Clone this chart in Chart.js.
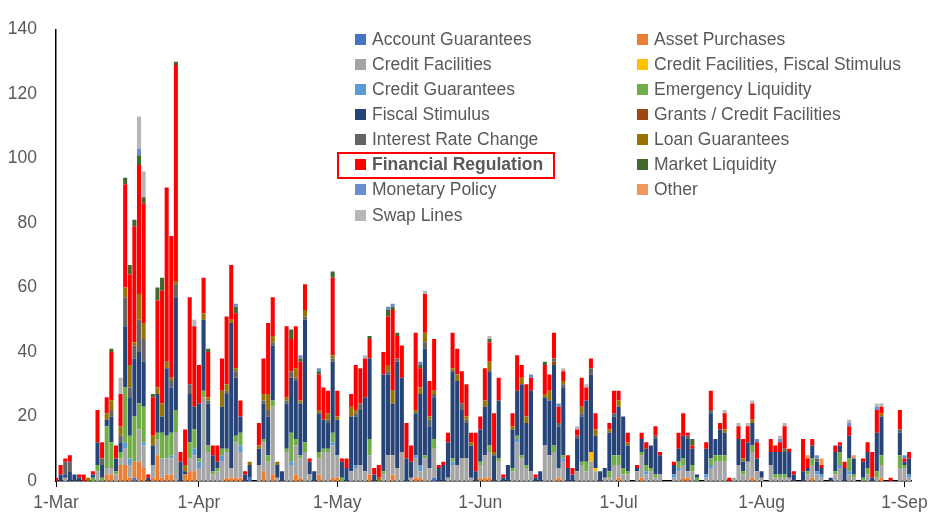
<!DOCTYPE html>
<html>
<head>
<meta charset="utf-8">
<script src="https://cdn.jsdelivr.net/npm/chart.js@4.4.1/dist/chart.umd.min.js"></script>
<style>
  html, body { margin: 0; padding: 0; background: #fff; }
  #wrap { position: relative; width: 934px; height: 518px; }
  #legend {
    position: absolute; left: 355px; top: 26.5px;
    display: grid; grid-template-columns: 282px 270px; grid-auto-rows: 25.15px;
    font-family: "Liberation Sans", Arial, sans-serif; font-size: 17.5px; color: #595959;
  }
  .item { position: relative; display: flex; align-items: center; white-space: nowrap; }
  .swatch { width: 11px; height: 11px; margin-right: 6px; flex: none; }
  .item.hl { font-weight: bold; }
  .item.hl::before {
    content: ""; position: absolute; left: -18px; top: 0; width: 218px; height: 27px;
    border: 2px solid #f00; box-sizing: border-box;
  }
</style>
</head>
<body>
<div id="wrap">
  <canvas id="chart" width="934" height="518"></canvas>
  <div id="legend"></div>
</div>
<script>
// one value per day, 1-Mar to 2-Sep (lines are months)
const monthTicks = [0, 31, 61, 92, 122, 153, 184];
const monthLabels = ['1-Mar', '1-Apr', '1-May', '1-Jun', '1-Jul', '1-Aug', '1-Sep'];

const seriesNames = [
  'Account Guarantees', 'Asset Purchases', 'Credit Facilities', 'Credit Facilities, Fiscal Stimulus',
  'Credit Guarantees', 'Emergency Liquidity', 'Fiscal Stimulus', 'Grants / Credit Facilities',
  'Interest Rate Change', 'Loan Guarantees', 'Financial Regulation', 'Market Liquidity',
  'Monetary Policy', 'Other', 'Swap Lines'
];
const seriesColors = [
  '#4472C4', '#ED7D31', '#A5A5A5', '#FFC000', '#5B9BD5', '#70AD47', '#264478', '#9E480E',
  '#636363', '#997300', '#FF0000', '#43682B', '#698ED0', '#F1975A', '#B7B7B7'
];

const accountGuarantees = [
  0,0,0,0,0,0,0,0,0,0, 0,0,0,0,0,0,0,1,0,0, 0,0,0,0,0,0,0,0,0,0, 0,
  0,0,0,0,0,0,0,0,0,0, 0,1,0,0,0,0,0,0,0,0, 0,0,0,0,0,0,0,0,0,0,
  0,0,0,0,0,0,0,0,0,0, 0,0,0,0,0,0,0,0,0,0, 0,1,0,0,0,0,0,0,0,0, 0,
  0,0,0,0,0,0,0,0,0,0, 0,0,0,0,0,0,0,0,0,0, 0,0,0,0,0,0,0,0,0,0,
  0,0,0,0,0,0,0,0,0,0, 0,0,0,0,0,0,0,0,0,0, 0,0,0,0,0,0,0,0,0,0, 0,
  0,0,0,0,0,0,0,0,0,0, 0,0,0,0,0,0,0,0,0,0, 0,0,0,0,0,0,0,0,0,0, 0,
  0,0
];
const assetPurchases = [
  0,0,0,0,0,0,0,0,0,0, 0,2,2,0,5,5,1,5,6,4, 0,1,8,1,2,2,0,0,2,3, 3,
  0,0,0,0,0,0,1,1,1,1, 0,0,0,0,3,0,2,0,0,0, 0,2,1,0,0,0,2,0,0,1,
  1,0,0,0,0,0,0,2,0,0, 0,0,2,0,0,0,0,1,1,0, 0,0,0,0,0,0,0,0,0,0, 0,
  1,1,1,0,0,0,0,0,0,0, 0,0,0,0,0,0,0,1,0,0, 0,0,0,0,0,0,0,0,0,0,
  1,0,0,0,0,1,0,0,0,0, 0,0,0,0,1,1,0,0,0,0, 0,0,0,0,0,0,0,0,0,1, 0,
  0,0,0,0,0,0,0,0,0,0, 0,1,0,0,0,0,0,0,0,0, 0,0,0,0,0,0,1,0,0,0, 0,
  0,0
];
const creditFacilities = [
  0,0,1,0,0,0,0,0,0,3, 0,2,2,2,2,5,4,0,10,7, 0,4,5,6,5,5,15,0,0,4, 5,
  4,26,9,2,3,6,8,3,11,8, 0,0,0,5,9,6,21,1,0,9, 5,9,6,9,2,0,5,9,9,10,
  7,0,0,3,4,5,3,6,0,0, 2,8,6,4,9,0,1,6,2,7, 4,9,0,0,1,5,5,7,7,1, 0,
  4,7,8,0,6,0,0,3,12,7, 4,3,0,0,11,8,9,3,6,0, 0,3,5,3,6,3,0,1,1,5,
  4,2,2,0,3,7,2,3,1,2, 0,0,1,3,4,2,3,0,0,1, 4,6,6,6,0,1,5,2,6,8, 3,
  1,0,5,1,1,1,1,0,0,0, 2,4,2,1,0,0,2,4,0,2, 1,0,0,2,0,1,4,0,0,0, 4,
  4,1
];
const creditFiscal = [
  0,0,0,0,0,0,0,0,0,0, 0,0,0,0,0,0,0,0,0,0, 0,0,0,0,0,0,0,0,0,0, 0,
  0,0,0,0,0,0,0,0,0,0, 0,0,0,0,0,0,0,0,0,0, 0,0,0,0,0,0,0,0,0,0,
  0,0,0,0,0,0,0,0,0,0, 0,0,0,0,0,0,0,0,0,0, 0,0,0,0,0,0,0,0,0,0, 0,
  0,0,0,0,0,0,0,0,0,0, 0,0,0,0,0,0,0,0,0,0, 0,0,0,0,3,1,0,0,0,0,
  0,0,0,0,0,0,0,0,0,0, 0,0,0,0,0,0,0,0,0,0, 0,0,0,0,0,0,0,0,0,0, 0,
  0,0,0,0,0,0,0,0,0,0, 0,0,0,0,0,0,0,0,0,0, 0,0,0,0,0,0,0,0,0,0, 0,
  0,0
];
const creditGuarantees = [
  0,0,0,0,0,0,0,0,0,0, 0,0,0,0,0,2,2,0,0,1, 0,0,0,0,0,1,0,0,0,0, 2,
  2,0,0,0,0,2,0,0,0,2, 0,0,0,0,0,0,0,0,0,0, 1,0,0,0,0,0,0,0,0,1,
  0,0,0,0,1,0,0,0,0,0, 0,0,0,0,0,0,0,1,2,0, 0,0,0,0,0,1,0,0,0,0, 0,
  0,0,0,0,0,0,0,0,1,0, 0,0,0,0,0,0,0,0,1,0, 0,0,0,0,0,0,0,0,0,0,
  0,0,0,0,0,0,1,0,0,0, 0,0,1,1,0,0,0,0,0,1, 1,0,0,0,0,0,0,0,0,0, 0,
  0,0,0,0,0,0,0,0,0,0, 0,0,1,1,0,0,0,1,0,1, 0,0,0,0,0,0,0,0,0,0, 0,
  0,1
];
const emergencyLiquidity = [
  0,0,0,0,0,0,0,0,1,2, 1,13,8,1,2,17,7,14,8,11, 0,0,2,8,7,7,7,0,0,5, 6,
  1,2,2,1,1,2,1,0,2,4, 0,0,0,0,1,2,2,0,0,1, 9,2,1,3,0,0,2,1,1,3,
  0,1,0,0,0,0,0,5,0,0, 1,0,0,0,0,0,0,0,0,1, 0,3,0,0,0,1,0,0,0,0, 0,
  1,0,2,0,1,0,0,1,1,1, 1,0,0,0,0,0,2,0,1,0, 0,0,1,3,0,0,0,0,2,3,
  3,2,1,0,0,1,2,1,1,0, 0,0,0,2,2,0,2,1,0,0, 2,2,2,2,0,0,0,1,0,2, 0,
  0,0,0,1,1,1,0,0,0,0, 1,2,0,0,0,0,1,4,0,4, 1,0,1,2,0,2,3,0,0,0, 4,
  1,0
];
const fiscalStimulus = [
  0,2,1,3,2,1,0,0,1,7, 4,2,8,4,3,19,12,18,16,14, 1,6,12,5,21,14,35,6,1,15, 7,
  17,22,13,5,2,13,17,45,18,5, 2,4,0,5,11,12,17,4,3,14, 17,18,16,38,4,3,12,9,8,22,
  11,5,4,17,15,17,23,25,2,0, 30,25,16,33,23,7,5,13,22,33, 13,13,4,5,11,27,26,15,11,10, 3,
  10,15,23,8,18,1,5,12,14,22, 13,25,1,3,15,17,25,13,21,4, 2,10,14,19,24,10,3,3,12,12,
  15,16,8,0,1,4,5,7,11,6, 0,0,3,4,7,10,5,1,0,8, 14,5,8,7,0,0,8,3,6,7, 4,
  2,0,4,7,7,7,8,2,0,3, 1,4,3,2,0,1,6,2,4,7, 5,0,5,5,1,12,12,0,0,0, 7,
  1,5
];
const grantsCredit = [
  0,0,0,0,0,0,0,0,0,0, 0,0,0,0,0,0,0,0,0,0, 0,0,0,0,0,0,0,0,0,0, 0,
  0,0,0,0,0,0,0,0,0,0, 0,0,0,0,0,0,0,0,0,0, 0,0,0,0,0,0,0,0,0,0,
  0,0,0,0,0,0,0,0,0,0, 0,0,0,0,0,0,0,0,0,0, 0,0,0,0,0,0,0,0,0,0, 0,
  0,0,0,0,0,0,0,0,0,0, 0,0,0,0,0,0,1,0,0,0, 0,0,0,0,0,0,0,0,0,0,
  0,0,0,0,0,0,0,0,0,0, 0,0,0,0,0,0,0,0,0,0, 0,0,0,0,0,0,0,0,0,0, 0,
  0,0,0,0,0,0,0,0,0,0, 0,0,0,0,0,0,0,0,0,0, 0,0,0,0,0,0,0,0,0,0, 0,
  0,0
];
const interestRate = [
  0,0,4,3,0,0,0,0,0,0, 2,0,2,0,2,9,3,4,10,7, 0,0,0,0,0,2,4,0,0,3, 0,
  0,0,1,0,0,0,1,0,2,0, 0,0,0,0,1,2,1,0,0,1, 2,1,0,1,0,0,0,0,1,1,
  0,0,0,0,1,2,0,0,0,0, 0,1,0,1,0,0,0,0,0,2, 2,1,0,0,0,0,0,2,1,0, 0,
  0,0,0,0,0,0,0,0,0,0, 0,0,0,0,0,0,1,1,1,0, 0,1,1,0,2,0,0,0,0,1,
  0,0,0,0,0,0,0,0,1,0, 0,0,0,0,0,1,0,0,0,0, 1,0,0,0,0,0,0,0,0,0, 0,
  0,0,0,0,0,1,0,0,0,0, 0,0,1,0,0,0,0,0,0,0, 0,0,0,0,0,0,0,0,0,0, 1,
  0,0
];
const loanGuarantees = [
  0,0,0,0,0,0,0,1,0,0, 0,2,3,0,3,3,7,1,8,5, 0,3,2,4,2,1,1,0,2,0, 0,
  0,2,1,0,0,5,2,1,1,0, 0,1,0,1,2,5,2,1,0,1, 0,3,1,2,0,0,1,0,2,1,
  1,0,0,3,1,0,0,0,0,1, 0,2,4,0,0,0,0,1,2,3, 1,1,0,0,0,1,2,0,1,1, 0,
  0,2,3,1,0,0,0,1,0,2, 2,0,0,0,1,3,0,0,1,0, 0,0,2,0,0,2,0,0,1,0,
  2,0,1,0,0,0,0,0,0,0, 0,0,0,0,0,0,0,0,0,0, 0,0,0,1,0,0,0,1,0,1, 0,
  0,0,0,0,0,0,0,0,0,0, 0,0,0,0,0,0,0,0,0,0, 0,0,0,0,0,0,1,0,0,0, 0,
  0,0
];
const financialRegulation = [
  1,3,1,2,0,1,2,0,1,10, 5,5,15,4,10,32,28,36,40,37, 1,12,27,35,54,44,67,3,11,27, 25,
  12,11,14,3,5,10,21,17,17,5, 1,0,0,7,11,22,12,0,0,22, 10,13,12,8,1,0,11,10,7,24,
  8,1,3,4,14,11,12,6,2,4, 7,15,25,7,10,11,5,24,6,12, 11,16,1,1,3,11,8,10,10,3, 12,
  4,10,6,12,7,1,0,4,11,4, 10,4,1,0,9,5,8,5,3,4, 2,2,9,4,3,5,0,0,2,7,
  3,0,3,0,1,2,2,0,3,1, 0,0,1,5,7,1,1,0,0,2, 6,0,2,5,1,0,4,6,5,5, 5,
  0,0,4,2,3,7,1,1,0,10, 3,2,0,1,0,0,2,1,2,3, 0,0,1,3,8,7,2,0,1,0, 6,
  1,2
];
const marketLiquidity = [
  0,0,0,0,0,0,0,0,0,0, 0,0,1,0,0,2,3,2,3,2, 0,1,4,4,0,0,1,0,0,0, 0,
  0,0,1,0,0,0,0,0,2,0, 0,0,0,0,0,0,0,0,0,0, 3,0,1,0,0,0,1,0,0,2,
  0,0,0,0,0,0,0,1,0,0, 0,2,1,1,0,0,0,0,1,0, 0,0,0,0,0,0,0,0,0,0, 0,
  0,0,1,0,0,0,0,0,0,0, 0,0,0,0,1,0,0,0,0,0, 0,0,0,0,0,0,0,0,0,0,
  0,0,0,0,0,0,0,0,0,0, 0,0,0,0,0,0,2,0,0,0, 0,0,0,0,0,0,0,0,0,0, 0,
  0,0,0,0,0,0,0,0,0,0, 0,0,0,0,0,0,0,0,0,0, 0,0,0,0,0,0,0,0,0,0, 0,
  0,0
];
const monetaryPolicy = [
  0,0,0,0,0,0,0,0,0,0, 0,0,0,0,0,0,0,0,2,0, 0,0,0,0,0,0,0,0,0,0, 0,
  0,0,0,0,0,0,0,0,1,0, 0,0,0,0,0,0,0,0,0,0, 0,0,1,0,0,0,1,0,0,0,
  0,0,0,0,0,0,0,0,0,0, 0,1,1,0,0,0,0,0,1,0, 0,0,0,0,0,0,0,0,0,0, 0,
  0,0,0,0,0,0,0,0,0,0, 0,1,0,0,0,0,0,1,0,0, 0,0,0,0,0,0,0,0,0,0,
  0,0,0,0,0,0,0,0,0,0, 0,0,0,0,0,0,0,0,0,0, 0,0,0,0,0,0,0,0,0,0, 1,
  0,0,0,0,1,0,0,0,0,0, 0,0,1,0,0,0,0,0,0,1, 0,0,0,0,0,1,0,0,0,0, 0,
  1,0
];
const other = [
  0,0,0,0,0,0,0,0,0,0, 0,0,0,0,0,0,0,0,0,0, 0,0,0,0,0,0,0,0,0,0, 0,
  0,0,0,0,0,0,0,0,0,0, 0,0,0,0,0,0,0,0,0,0, 0,0,0,0,0,0,0,0,0,0,
  0,0,0,0,0,0,0,0,0,0, 0,0,0,0,0,0,0,0,0,0, 0,0,0,0,0,0,0,0,0,0, 0,
  0,0,0,0,0,0,0,0,0,0, 0,0,0,0,0,0,0,0,0,0, 0,0,0,0,0,0,0,0,0,0,
  0,0,0,0,0,0,0,0,0,0, 0,0,0,0,0,0,0,0,0,0, 0,0,0,0,0,0,0,0,0,0, 0,
  0,0,0,0,0,0,0,0,0,0, 1,0,0,2,0,0,0,0,0,0, 1,0,0,0,0,0,0,0,0,0, 0,
  0,0
];
const swapLines = [
  0,0,0,0,0,0,0,0,0,0, 0,0,0,0,5,0,0,0,10,8, 0,0,0,0,0,0,0,0,0,0, 2,
  0,0,0,0,0,0,0,0,0,0, 0,0,0,0,0,0,0,0,0,0, 0,0,0,0,0,0,0,0,0,0,
  0,0,0,0,0,0,1,0,0,0, 0,0,0,0,0,0,0,0,0,1, 0,0,0,0,0,0,0,0,0,0, 0,
  0,0,1,0,0,0,0,0,0,0, 0,0,0,0,0,0,0,0,1,0, 0,1,0,1,0,0,0,0,0,0,
  0,0,0,0,0,0,0,0,0,0, 0,0,0,0,0,0,0,0,0,0, 0,0,0,1,0,0,1,0,1,1, 0,
  0,0,0,0,1,1,0,0,0,0, 0,0,0,0,0,0,0,0,0,1, 0,0,0,0,0,1,1,0,0,0, 0,
  0,0
];

const seriesValues = [
  accountGuarantees, assetPurchases, creditFacilities, creditFiscal, creditGuarantees,
  emergencyLiquidity, fiscalStimulus, grantsCredit, interestRate, loanGuarantees,
  financialRegulation, marketLiquidity, monetaryPolicy, other, swapLines
];

const font = { family: '"Liberation Sans", Arial, sans-serif', size: 17.5 };

// legend as html, two columns like the original
const legendEl = document.getElementById('legend');
seriesNames.forEach((name, k) => {
  const item = document.createElement('div');
  item.className = 'item' + (name === 'Financial Regulation' ? ' hl' : '');
  const sw = document.createElement('span');
  sw.className = 'swatch';
  sw.style.background = seriesColors[k];
  item.appendChild(sw);
  item.appendChild(document.createTextNode(name));
  legendEl.appendChild(item);
});

const ctx = document.getElementById('chart').getContext('2d');
new Chart(ctx, {
  type: 'bar',
  data: {
    datasets: seriesNames.map((name, k) => ({
      label: name,
      data: seriesValues[k].map((v, i) => ({ x: i, y: v })),
      backgroundColor: seriesColors[k],
      borderWidth: 0,
      barPercentage: 0.88,
      categoryPercentage: 1,
    })),
  },
  options: {
    responsive: false,
    animation: false,
    layout: { padding: { top: 17, right: 20, left: 0, bottom: 0 } },
    plugins: { legend: { display: false }, tooltip: { enabled: false } },
    scales: {
      x: {
        type: 'linear',
        stacked: true,
        min: 0,
        max: 185.5,
        offset: false,
        grid: { display: true, drawOnChartArea: false, drawTicks: true, tickLength: 6, color: '#000', offset: false },
        border: { display: true, color: '#000', width: 1.5 },
        afterBuildTicks: (scale) => { scale.ticks = monthTicks.map((v) => ({ value: v })); },
        afterFit: (scale) => { scale.height = 37; },
        ticks: {
          autoSkip: false,
          maxRotation: 0,
          padding: 6,
          color: '#595959',
          font: font,
          callback: (value, index) => monthLabels[index],
        },
      },
      y: {
        stacked: true,
        min: 0,
        max: 140,
        grid: { display: false, drawTicks: false },
        border: { display: true, color: '#000', width: 1.5 },
        afterFit: (scale) => { scale.width = 56; },
        ticks: { stepSize: 20, padding: 19, color: '#595959', font: font },
      },
    },
  },
});
</script>
</body>
</html>
